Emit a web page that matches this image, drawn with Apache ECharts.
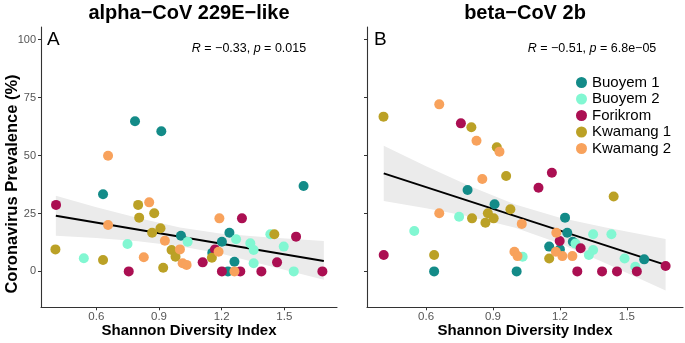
<!DOCTYPE html>
<html>
<head>
<meta charset="utf-8">
<script src="https://cdn.jsdelivr.net/npm/echarts@6/dist/echarts.min.js"></script>
<style>
  html, body { margin: 0; padding: 0; background: #fff; }
  #chart { width: 685px; height: 343px; }
</style>
</head>
<body>
<div id="chart"></div>
<script>
// Sites, in legend order, and their colours
const sites = ['Buoyem 1', 'Buoyem 2', 'Forikrom', 'Kwamang 1', 'Kwamang 2'];
const siteColors = ['#138b88', '#82f7d2', '#ab0f52', '#bba126', '#f8a25c'];

// Axis ticks
const xTicks = [0.6, 0.9, 1.2, 1.5];
const yTicks = [0, 25, 50, 75, 100];

// Panel A: alpha-CoV 229E-like — [Shannon index, prevalence %]
const alphaBuoyem1 = [[0.632, 33.3], [0.785, 64.8], [0.911, 60.5], [1.005, 15.4], [1.155, 8.0], [1.201, 12.8], [1.23, 0], [1.237, 16.7], [1.261, 4.2], [1.592, 36.9]];
const alphaBuoyem2 = [[0.540, 5.7], [0.749, 11.8], [1.037, 12.8], [1.269, 13.9], [1.337, 12.1], [1.353, 9.2], [1.353, 3.5], [1.433, 16.0], [1.497, 10.7], [1.545, 0]];
const alphaForikrom = [[0.407, 28.7], [0.755, 0], [1.109, 3.9], [1.168, 9.5], [1.201, 0], [1.289, 0], [1.297, 22.9], [1.39, 0], [1.465, 3.9], [1.556, 15.0], [1.682, 0]];
const alphaKwamang1 = [[0.404, 9.5], [0.632, 4.9], [0.80, 28.7], [0.805, 23.2], [0.867, 16.7], [0.877, 25.1], [0.907, 18.6], [0.920, 1.6], [0.960, 9.2], [0.979, 6.3], [1.153, 5.9], [1.452, 16.0]];
const alphaKwamang2 = [[0.656, 49.9], [0.656, 20.0], [0.827, 6.1], [0.853, 29.8], [0.928, 13.2], [1.0, 9.5], [1.013, 3.5], [1.032, 2.8], [1.185, 8.5], [1.189, 22.9], [1.261, 0]];

// Panel A regression line and 95% band
const alphaFitX = [0.406, 1.689];
const alphaFitY = [24.0, 4.5];
const alphaBandX = [0.406, 0.6, 0.8, 1.0, 1.2, 1.4, 1.689];
const alphaBandLo = [15.4, 14.4, 13.0, 10.9, 7.6, 3.0, -3.6];
const alphaBandHi = [32.6, 27.7, 23.0, 19.0, 16.3, 14.8, 13.1];

// Panel B: beta-CoV 2b — [Shannon index, prevalence %]
const betaBuoyem1 = [[0.636, 0], [0.786, 35.1], [0.907, 29.0], [1.006, 0], [1.152, 10.7], [1.20, 9.5], [1.223, 23.2], [1.233, 16.7], [1.258, 12.8], [1.578, 5.2]];
const betaBuoyem2 = [[0.547, 17.4], [0.748, 23.6], [1.033, 6.3], [1.27, 12.0], [1.330, 7.1], [1.349, 9.2], [1.349, 16.0], [1.431, 16.0], [1.49, 5.6], [1.538, 2.0]];
const betaForikrom = [[0.410, 7.1], [0.756, 63.9], [1.104, 36.1], [1.164, 42.6], [1.199, 13.1], [1.278, 0], [1.293, 10.0], [1.389, 0], [1.456, 0], [1.545, 0], [1.674, 2.3]];
const betaKwamang1 = [[0.409, 66.8], [0.636, 7.1], [0.803, 62.2], [0.806, 22.9], [0.866, 21.0], [0.877, 25.1], [0.903, 22.9], [0.917, 53.6], [0.959, 41.2], [0.978, 26.8], [1.152, 5.6], [1.441, 32.3]];
const betaKwamang2 = [[0.659, 72.1], [0.659, 25.1], [0.826, 56.4], [0.852, 39.9], [0.929, 51.7], [0.996, 8.5], [1.01, 6.6], [1.029, 20.5], [1.182, 8.5], [1.184, 16.7], [1.211, 6.6], [1.256, 6.6]];

// Panel B regression line and 95% band
const betaFitX = [0.41, 1.674];
const betaFitY = [42.3, 2.8];
const betaBandX = [0.41, 0.6, 0.8, 1.0, 1.2, 1.4, 1.674];
const betaBandLo = [30.4, 27.3, 23.6, 18.8, 12.0, 3.7, -8.2];
const betaBandHi = [54.2, 45.4, 36.6, 28.9, 23.2, 19.1, 14.0];

const FONT = '"Liberation Sans", Arial, Helvetica, sans-serif';

const panels = [
  { sets: [alphaBuoyem1, alphaBuoyem2, alphaForikrom, alphaKwamang1, alphaKwamang2],
    fitX: alphaFitX, fitY: alphaFitY, bandX: alphaBandX, bandLo: alphaBandLo, bandHi: alphaBandHi },
  { sets: [betaBuoyem1, betaBuoyem2, betaForikrom, betaKwamang1, betaKwamang2],
    fitX: betaFitX, fitY: betaFitY, bandX: betaBandX, bandLo: betaBandLo, bandHi: betaBandHi }
];

function makeXAxis(gridIndex) {
  return {
    type: 'value', gridIndex, min: 0.335, max: 1.752,
    splitLine: { show: false },
    axisLine: { show: true, onZero: false, lineStyle: { color: '#333', width: 1.1 } },
    axisTick: { show: true, length: 3, customValues: xTicks, lineStyle: { color: '#333', width: 1 } },
    axisLabel: { customValues: xTicks, margin: 4, fontSize: 11.5, color: '#555', fontFamily: FONT,
                 formatter: v => v.toFixed(1) }
  };
}
function makeYAxis(gridIndex, showLabels) {
  return {
    type: 'value', gridIndex, min: -15.5, max: 105.5,
    splitLine: { show: false },
    axisLine: { show: true, onZero: false, lineStyle: { color: '#333', width: 1.1 } },
    axisTick: { show: true, length: 3, customValues: yTicks, lineStyle: { color: '#333', width: 1 } },
    axisLabel: { show: showLabels, customValues: yTicks, margin: 5, fontSize: 11, color: '#555', fontFamily: FONT }
  };
}

const series = [];
panels.forEach((p, gi) => {
  // confidence band
  series.push({
    type: 'custom', xAxisIndex: gi, yAxisIndex: gi, silent: true, z: 1,
    data: [[p.bandX[0], p.bandLo[0]]],
    renderItem: (params, api) => {
      const pts = [];
      for (let i = 0; i < p.bandX.length; i++) pts.push(api.coord([p.bandX[i], p.bandHi[i]]));
      for (let i = p.bandX.length - 1; i >= 0; i--) pts.push(api.coord([p.bandX[i], p.bandLo[i]]));
      return { type: 'polygon', shape: { points: pts }, style: { fill: '#ebebeb' } };
    }
  });
  // fitted line
  series.push({
    type: 'line', xAxisIndex: gi, yAxisIndex: gi, silent: true, z: 2,
    data: p.fitX.map((x, i) => [x, p.fitY[i]]),
    symbol: 'none', lineStyle: { color: '#000', width: 2 }
  });
  // points per site
  p.sets.forEach((d, si) => {
    series.push({
      type: 'scatter', name: sites[si], xAxisIndex: gi, yAxisIndex: gi, z: 3,
      data: d, symbol: 'circle', symbolSize: 10,
      itemStyle: { color: siteColors[si], opacity: 1 }
    });
  });
});

function txt(text, x, y, font, opts = {}) {
  return {
    type: 'text', x, y, rotation: opts.rotation || 0, silent: true,
    style: Object.assign({ text, font, fill: '#000', align: opts.align || 'center', verticalAlign: 'middle' },
                         opts.rich ? { rich: opts.rich } : {})
  };
}
const italic = { i: { fontStyle: 'italic', fontSize: 12.5, fontFamily: FONT } };

const option = {
  animation: false,
  backgroundColor: '#fff',
  grid: [
    { left: 41, top: 27, width: 296, height: 280.3 },
    { left: 367, top: 27, width: 316, height: 280.3 }
  ],
  xAxis: [makeXAxis(0), makeXAxis(1)],
  yAxis: [makeYAxis(0, true), makeYAxis(1, false)],
  legend: {
    data: sites, orient: 'vertical', left: 571, top: 70, icon: 'circle',
    itemWidth: 11, itemHeight: 11, itemGap: 1.5, selectedMode: false,
    textStyle: { fontSize: 15, color: '#000', fontFamily: FONT }
  },
  graphic: [
    txt('alpha\u2212CoV 229E\u2212like', 189, 13, 'bold 20px ' + FONT),
    txt('beta\u2212CoV 2b', 525, 13, 'bold 20px ' + FONT),
    txt('A', 47, 40, '19px ' + FONT, { align: 'left' }),
    txt('B', 374, 40, '19px ' + FONT, { align: 'left' }),
    txt('{i|R} = \u22120.33, {i|p} = 0.015', 249, 49, '12.5px ' + FONT, { rich: italic }),
    txt('{i|R} = \u22120.51, {i|p} = 6.8e\u221205', 592, 49, '12.5px ' + FONT, { rich: italic }),
    txt('Shannon Diversity Index', 189, 331, 'bold 15px ' + FONT),
    txt('Shannon Diversity Index', 525, 331, 'bold 15px ' + FONT),
    txt('Coronavirus Prevalence (%)', 12, 184, 'bold 16.5px ' + FONT, { rotation: Math.PI / 2 })
  ],
  series
};

const chart = echarts.init(document.getElementById('chart'), null, { renderer: 'canvas' });
chart.setOption(option);
</script>
</body>
</html>
